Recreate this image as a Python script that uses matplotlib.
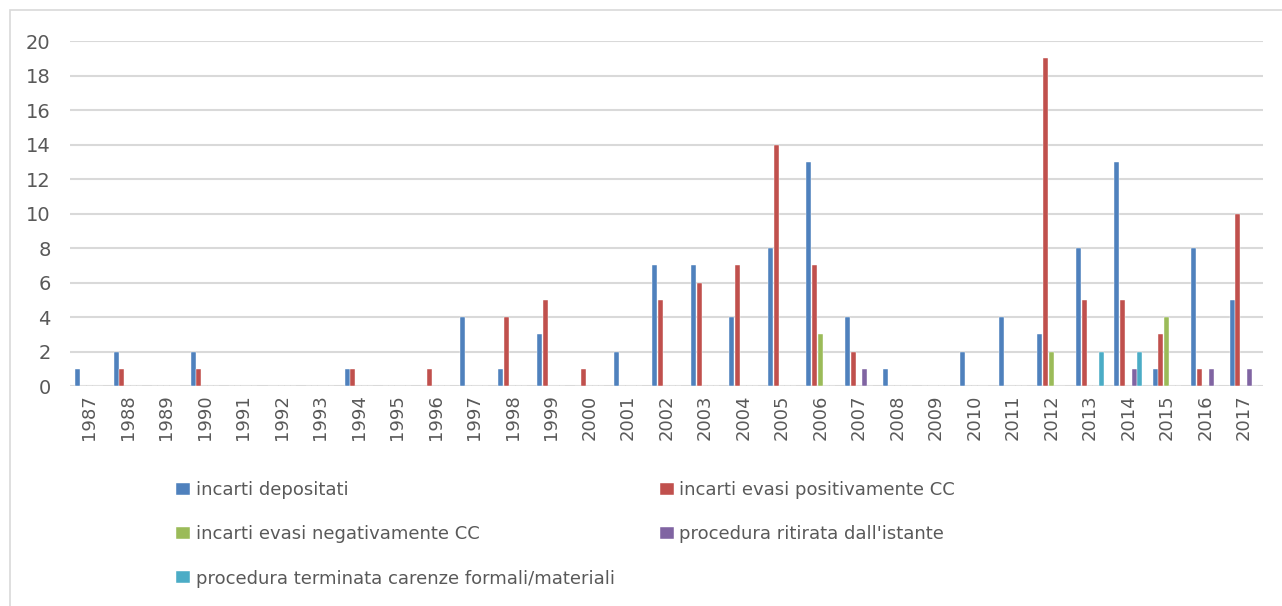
import numpy as np
import matplotlib.pyplot as plt
from matplotlib.patches import Rectangle

### Data
### ----
years = [str(y) for y in range(1987, 2018)]

depositati = [1, 2, 0, 2, 0, 0, 0, 1, 0, 0, 4, 1, 3, 0, 2, 7, 7, 4, 8, 13,
              4, 1, 0, 2, 4, 3, 8, 13, 1, 8, 5]
evasi_pos = [0, 1, 0, 1, 0, 0, 0, 1, 0, 1, 0, 4, 5, 1, 0, 5, 6, 7, 14, 7,
             2, 0, 0, 0, 0, 19, 5, 5, 3, 1, 10]
evasi_neg = [0, 0, 0, 0, 0, 0, 0, 0, 0, 0, 0, 0, 0, 0, 0, 0, 0, 0, 0, 3,
             0, 0, 0, 0, 0, 2, 0, 0, 4, 0, 0]
ritirata = [0, 0, 0, 0, 0, 0, 0, 0, 0, 0, 0, 0, 0, 0, 0, 0, 0, 0, 0, 0,
            1, 0, 0, 0, 0, 0, 0, 1, 0, 1, 1]
terminata = [0, 0, 0, 0, 0, 0, 0, 0, 0, 0, 0, 0, 0, 0, 0, 0, 0, 0, 0, 0,
             0, 0, 0, 0, 0, 0, 2, 2, 0, 0, 0]

series = [depositati, evasi_pos, evasi_neg, ritirata, terminata]
labels = ["incarti depositati", "incarti evasi positivamente CC",
          "incarti evasi negativamente CC", "procedura ritirata dall'istante",
          "procedura terminata carenze formali/materiali"]
colors = ["#4f81bd", "#c0504d", "#9bbb59", "#8064a2", "#4bacc6"]

### Plotstuff
### ---------
plt.rcParams['font.family'] = ['DejaVu Sans']
fig = plt.figure(figsize=(12.82, 6.06), dpi=100)
ax = fig.add_axes([70 / 1282, 1 - 386 / 606, 1193 / 1282, 345 / 606])

# light chart border (right/bottom edges fall outside the picture)
fig.patches.append(Rectangle((10 / 1282, -0.1), 1.2, 1 - 10 / 606 + 0.1,
                             transform=fig.transFigure, fill=False,
                             edgecolor="#d9d9d9", linewidth=1.2))

x = np.arange(len(years))
w = 0.13
handles = []
for i, (vals, lab, col) in enumerate(zip(series, labels, colors)):
    h = ax.bar(x + (i - 2) * 0.151, vals, width=w, color=col, label=lab,
               edgecolor="white", linewidth=0.3)
    handles.append(h)

ax.set_xlim(-0.5, len(years) - 0.5)
ax.set_ylim(0, 20)
ax.set_yticks(range(0, 21, 2))
ax.set_xticks(x)
ax.set_xticklabels(years, rotation=90)
ax.tick_params(axis='y', length=0, labelsize=14, colors="#595959", pad=14)
ax.tick_params(axis='x', length=0, labelsize=13, colors="#595959", pad=6)
ax.grid(axis='y', color="#d9d9d9", linewidth=1.5)
ax.set_axisbelow(True)
for s in ax.spines.values():
    s.set_visible(False)

# Excel fills legend row by row; matplotlib fills column by column
order = [0, 2, 4, 1, 3]
leg = fig.legend([handles[i] for i in order], [labels[i] for i in order],
                 ncol=2, loc='upper left', bbox_to_anchor=(160 / 1282, 1 - 465 / 606),
                 frameon=False, fontsize=13, handlelength=0.78, handleheight=0.67,
                 handletextpad=0.3, columnspacing=2.5, labelspacing=1.45,
                 labelcolor="#595959")

fig.savefig("out.png", dpi=100)
